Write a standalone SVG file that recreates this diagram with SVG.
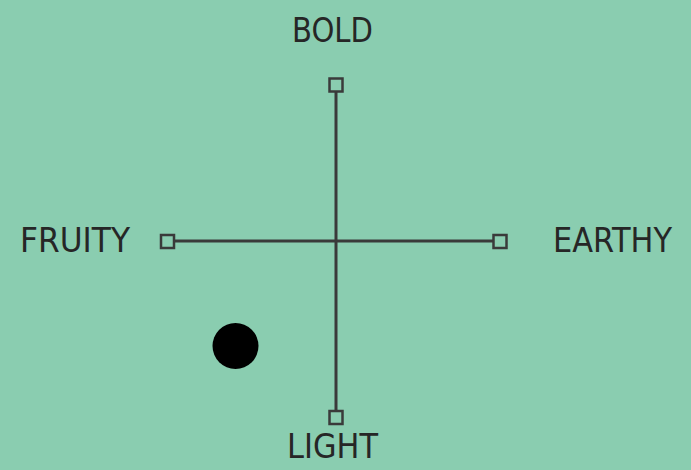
<svg xmlns="http://www.w3.org/2000/svg" width="691" height="470" viewBox="0 0 691 470">
<style>
.lbl{font-family:"DejaVu Sans",sans-serif;font-size:33px;fill:#262626;text-anchor:middle}
.ax{stroke:#3a3a3a;stroke-width:3;fill:none}
.end{stroke:#3a3a3a;stroke-width:2.5;fill:none}
</style>
<rect width="691" height="470" fill="#8acdb0"/>
<g id="connectors">
<line class="ax" x1="336" y1="92" x2="336" y2="411"/>
<line class="ax" x1="175" y1="241" x2="493" y2="241"/>
</g>
<g id="bold"><rect class="end" x="329.5" y="78.5" width="13" height="13"/><text class="lbl" x="332.5" y="42" textLength="81" lengthAdjust="spacingAndGlyphs">BOLD</text></g>
<g id="light"><rect class="end" x="329.5" y="411" width="13" height="13"/><text class="lbl" x="332.5" y="458" textLength="91" lengthAdjust="spacingAndGlyphs">LIGHT</text></g>
<g id="fruity"><rect class="end" x="161" y="235" width="13" height="13"/><text class="lbl" x="75" y="252" textLength="110" lengthAdjust="spacingAndGlyphs">FRUITY</text></g>
<g id="earthy"><rect class="end" x="493.5" y="235" width="13" height="13"/><text class="lbl" x="612.5" y="252" textLength="119" lengthAdjust="spacingAndGlyphs">EARTHY</text></g>
<g id="dot"><circle cx="235.5" cy="346" r="23" fill="#000"/></g>
</svg>
